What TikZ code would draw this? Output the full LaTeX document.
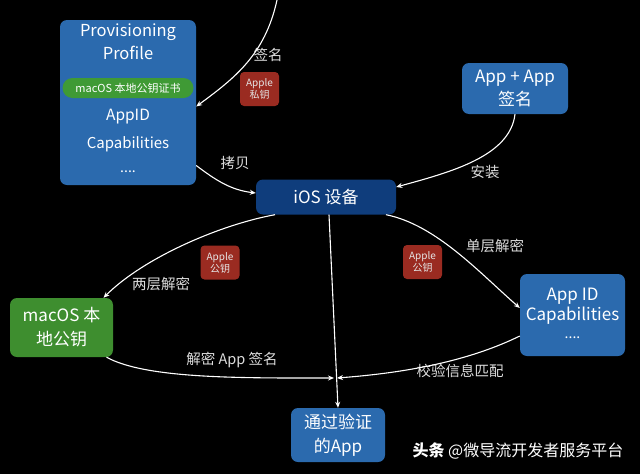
\documentclass[tikz,border=0pt]{standalone}
\usepackage{fontspec}
\setmainfont{Noto Sans CJK SC}
\usetikzlibrary{arrows.meta}
\definecolor{bluebox}{HTML}{2B6AAE}
\definecolor{darkbox}{HTML}{0F3D7C}
\definecolor{greenbox}{HTML}{3E8E2F}
\definecolor{pillgreen}{HTML}{3F9A35}
\definecolor{redbox}{HTML}{9A2B21}
\definecolor{lbl}{HTML}{DDDDDD}
\begin{document}
\begin{tikzpicture}[x=1pt,y=-1pt,
  box/.style={rounded corners=7pt, inner sep=0pt, align=center, text=white},
  keybox/.style={box, fill=redbox, rounded corners=4pt, minimum width=39pt, minimum height=34pt, font=\fontsize{10}{12}\selectfont, text=white!90!black},
  txt/.style={text=white, inner sep=0pt, align=center},
  lab/.style={text=lbl, inner sep=0pt, font=\fontsize{14.5}{17}\selectfont},
  conn/.style={draw=white, line width=1.1pt, -{Stealth[length=6pt,width=5pt]}}
]
\fill[black] (0,0) rectangle (640,474);
\useasboundingbox (0,0) rectangle (640,474);

% Provisioning profile
\node[box, fill=bluebox, minimum width=136pt, minimum height=165pt] (prof) at (128,102.5) {};
\node[txt, font=\fontsize{16.5}{20}\selectfont] (provt) at (128,32) {Provisioning};
\node[txt, font=\fontsize{16.5}{20}\selectfont] (proft) at (128,53) {Profile};
\node[box, fill=pillgreen, rounded corners=10pt, minimum width=131pt, minimum height=20pt, font=\fontsize{11}{13}\selectfont] (pill) at (128,88) {macOS 本地公钥证书};
\node[txt, font=\fontsize{15.5}{19}\selectfont] (appidt) at (128,117) {AppID};
\node[txt, font=\fontsize{15}{19}\selectfont] (capt) at (128,144) {Capabilities};
\node[txt, font=\fontsize{14}{16}\selectfont] (dotst) at (128,172) {....};

% other boxes
\node[box, fill=darkbox, minimum width=140pt, minimum height=35pt, font=\fontsize{17}{20}\selectfont] (ios) at (326,197) {iOS 设备};
\node[box, fill=bluebox, minimum width=106pt, minimum height=51pt, font=\fontsize{17}{23}\selectfont] (appapp) at (515,88.5) {App + App\\签名};
\node[box, fill=greenbox, minimum width=103pt, minimum height=59pt, font=\fontsize{17}{24}\selectfont] (mac) at (61.5,327.5) {macOS 本\\地公钥};
\node[box, fill=bluebox, minimum width=105pt, minimum height=82pt] (appid) at (572.5,315) {};
\node[txt, font=\fontsize{17}{20}\selectfont] (appidb1) at (572.5,296) {App ID};
\node[txt, font=\fontsize{17}{20}\selectfont] (appidb2) at (572.5,316) {Capabilities};
\node[txt, font=\fontsize{14}{16}\selectfont] (appidb3) at (572.5,338) {....};
\node[box, fill=bluebox, minimum width=94pt, minimum height=54pt, font=\fontsize{17}{24}\selectfont] (pass) at (338,435) {通过验证\\的App};

% key boxes
\node[keybox] (priv) at (259.5,89) {Apple\\私钥};
\node[keybox] (pub1) at (220,262.5) {Apple\\公钥};
\node[keybox] (pub2) at (422.5,262) {Apple\\公钥};

% labels
\node[lab] (l1) at (268,55) {签名};
\node[lab] (l2) at (235,163) {拷贝};
\node[lab] (l3) at (485,172) {安装};
\node[lab] (l4) at (161,284) {两层解密};
\node[lab] (l5) at (495,246) {单层解密};
\node[lab] (l6) at (232,360) {解密 App 签名};
\node[lab] (l7) at (460,371) {校验信息匹配};

% coordinates
\coordinate (top) at (277,0);
\coordinate (merge) at (334,378);

% connectors
\draw[conn] (top) .. controls +(-12,55) and +(38,-28) .. ([yshift=-4pt]prof.east);
\draw[conn] ([yshift=-63pt]prof.east) .. controls +(20,15) and +(-25,-3) .. ([yshift=4pt]ios.west);
\draw[conn] (appapp.south) .. controls +(-5,42) and +(55,-15) .. ([yshift=10pt]ios.east);
\draw[conn] ([xshift=-51pt]ios.south) .. controls +(-55,10) and +(40,-40) .. ([xshift=42pt]mac.north);
\draw[conn] ([xshift=60pt]ios.south) .. controls +(50,10) and +(-40,-35) .. ([yshift=7pt]appid.west);
\draw[conn] ([xshift=3pt]ios.south) -- (pass.north);
\draw[conn] ([xshift=45pt]mac.south) .. controls +(40,22) and +(-90,0) .. (merge);
\draw[conn] ([yshift=-21pt]appid.west) .. controls +(-45,22) and +(80,-6) .. ([xshift=3pt]merge);

% watermark
\node[txt, font=\fontsize{16}{19}\selectfont] (wm) at (518,451) {\textbf{头条} @微导流开发者服务平台};
\end{tikzpicture}
\end{document}
